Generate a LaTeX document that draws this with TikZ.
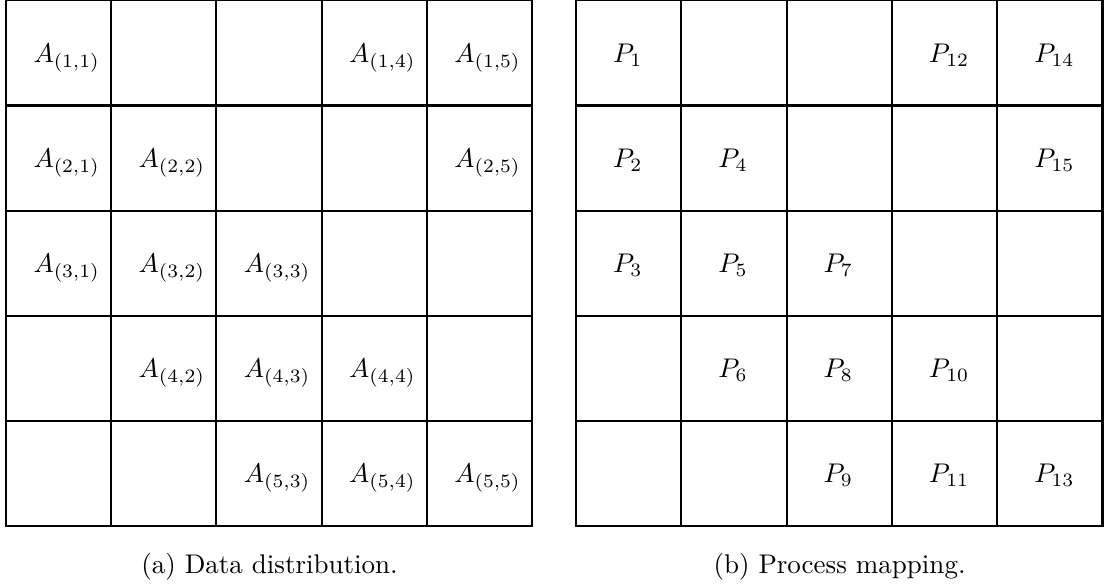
\documentclass[tikz,border=0pt]{standalone}
\begin{document}
\begin{tikzpicture}[x=0.3704pt,y=-0.3704pt,
  gridline/.style={line width=0.8pt, line cap=rect},
  lab/.style={anchor=base west, inner sep=0pt},
  captext/.style={anchor=base, inner sep=0pt}]
\useasboundingbox (0,0) rectangle (1104,585);
% left grid
\foreach \i in {0,...,5}{
  \draw[gridline] ({6+\i*105.2},0.3) -- ({6+\i*105.2},526);
  \draw[gridline] (6,{0.3+\i*105.14}) -- (532,{0.3+\i*105.14});
}
% right grid
\foreach \i in {0,...,5}{
  \draw[gridline] ({576+\i*105.3},0.3) -- ({576+\i*105.3},526);
  \draw[gridline] (576,{0.3+\i*105.14}) -- (1102.5,{0.3+\i*105.14});
}
% data distribution labels
\foreach \r/\c in {1/1,1/4,1/5,2/1,2/2,2/5,3/1,3/2,3/3,4/2,4/3,4/4,5/3,5/4,5/5}{
  \node[lab] (A\r\c) at ({6+(\c-1)*105.2+27},{0.3+(\r-1)*105.14+62}) {$A_{(\r,\c)}$};
}
% process mapping labels
\foreach \r/\c/\p in {1/1/1,1/4/12,1/5/14,2/1/2,2/2/4,2/5/15,3/1/3,3/2/5,3/3/7,4/2/6,4/3/8,4/4/10,5/3/9,5/4/11,5/5/13}{
  \node[lab] (P\p) at ({576+(\c-1)*105.3+36.5},{0.3+(\r-1)*105.14+62}) {$P_{\p}$};
}
\node[captext] (capa) at (269.5,573) {(a) Data distribution.};
\node[captext] (capb) at (839.5,573) {(b) Process mapping.};
\end{tikzpicture}
\end{document}
